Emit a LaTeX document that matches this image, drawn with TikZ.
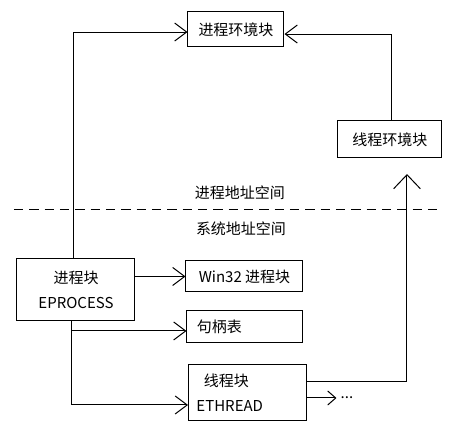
\documentclass[tikz,border=0pt]{standalone}
\usepackage{fontspec}
\newfontfamily\cjk{Noto Sans CJK SC}
\usetikzlibrary{positioning,arrows.meta}
\tikzset{
  blockbox/.style={draw, line width=0.75pt, inner sep=0pt, font=\cjk\fontsize{11.25pt}{18.75pt}\selectfont},
  plain/.style={inner sep=0pt, font=\cjk\fontsize{11.25pt}{18.75pt}\selectfont},
  fwd/.style={-{Straight Barb[length=9pt, width=13.5pt, line width=0.75pt]}, line width=0.75pt},
  fwdup/.style={-{Straight Barb[length=10.5pt, width=20pt, line width=0.75pt]}, line width=0.75pt},
  fwdsmall/.style={-{Straight Barb[length=6pt, width=10.5pt, line width=0.75pt]}, line width=0.75pt},
  divider/.style={line width=0.75pt, dash pattern=on 7pt off 4.5pt},
}

\begin{document}
\begin{tikzpicture}[x=0.75pt, y=-0.75pt]
  \useasboundingbox (0,0) rectangle (455,439);

  % blocks in user space
  \node[blockbox, minimum width=72pt, minimum height=26.25pt] (penv) at (236,29.5) {进程环境块};
  \node[blockbox, minimum width=78pt, minimum height=27.75pt] (tenv) at (390,139.5) {线程环境块};

  % blocks in system space
  \node[blockbox, minimum width=88.5pt, minimum height=46.5pt, align=center] (eproc) at (76,290) {进程块\\EPROCESS};
  \node[blockbox, minimum width=87.75pt, minimum height=23.25pt] (win32) at (244.5,276.5) {Win32 进程块};
  \node[blockbox, text width=72pt, inner xsep=7.5pt, minimum height=24pt, align=left] (handle) at (245,327) {句柄表};
  \node[blockbox, text width=76.5pt, inner xsep=6pt, minimum height=42pt, align=left] (ethread) at (247.5,393) {\hspace{5.5pt}线程块\\ETHREAD};
  \node[plain] (more) at (347,398) {...};

  % address space labels
  \node[plain] (upper) at (240,193) {进程地址空间};
  \node[plain] (lower) at (241,229) {系统地址空间};
  \coordinate (dl) at (14,210);
  \coordinate (dr) at (438,210);
  \draw[divider] (dl) -- (dr);

  % connectors
  \coordinate (trunk) at ([xshift=-3pt]eproc.south);
  \coordinate (tup) at (407,174);
  \draw[fwd] ([xshift=-1.5pt]eproc.north) |- ([yshift=-1.9pt]penv.west);
  \draw[fwd] ([xshift=1.5pt]tenv.north) |- ([yshift=-3.4pt]penv.east);
  \draw[fwd] (eproc.east |- win32.west) -- (win32.west);
  \draw[fwd] (trunk |- handle.west) ++(0,4) -- ([yshift=-3pt]handle.west);
  \draw[fwd] (trunk) |- ([yshift=-9pt]ethread.west);
  \draw[fwdup] ([yshift=8.25pt]ethread.east) -| (tup);
  \draw[fwdsmall] ([yshift=-3.75pt]ethread.east) -- ([xshift=-3pt]more.west);
\end{tikzpicture}
\end{document}
